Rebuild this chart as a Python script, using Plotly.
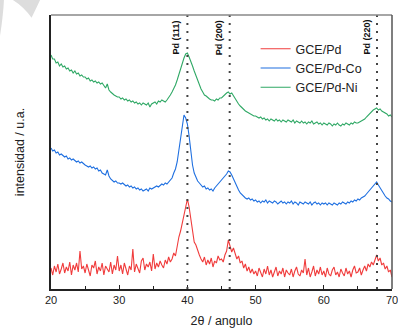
import numpy as np
import plotly.graph_objects as go

# 2theta grid (degrees), 0.25 step from 20 to 70
two_theta = [20 + 0.25 * i for i in range(201)]

# Intensities (arbitrary units, offset stacked as in the figure)
pd_ni = [
    234, 230, 230, 226, 227, 223, 225, 222, 223, 220, 221, 218, 219, 216, 218, 215, 216, 213, 214, 212,
    212, 210, 211, 208, 209, 207, 208, 206, 207, 205, 206, 203, 201, 205, 199, 197, 195, 194, 193, 192,
    192, 190, 191, 189, 190, 188, 189, 187, 188, 186, 187, 185, 186, 184, 186, 185, 184, 186, 182, 185,
    186, 187, 185, 188, 187, 189, 188, 187, 189, 191, 194, 197, 200, 204, 209, 215, 220, 226, 231, 235,
    236, 232, 228, 223, 218, 213, 208, 204, 200, 197, 194, 193, 191, 190, 189, 189, 188, 190, 189, 191,
    191, 193, 194, 196, 197, 195, 196, 193, 190, 188, 185, 183, 181, 180, 178, 177, 176, 175, 174, 173,
    173, 172, 171, 172, 170, 171, 169, 170, 168, 170, 169, 168, 170, 168, 169, 167, 169, 168, 167, 169,
    168, 167, 169, 166, 168, 167, 166, 168, 166, 167, 165, 167, 166, 168, 165, 166, 167, 165, 166, 164,
    166, 165, 164, 166, 165, 163, 165, 164, 166, 164, 163, 165, 164, 166, 165, 164, 166, 165, 167, 166,
    166, 167, 168, 169, 170, 172, 174, 176, 178, 179, 180, 181, 179, 180, 178, 177, 176, 175, 173, 174,
    172,
]

pd_co = [
    141, 138, 139, 136, 137, 134, 135, 133, 132, 133, 130, 131, 129, 130, 128, 127, 128, 126, 127, 125,
    124, 123, 122, 123, 121, 122, 120, 121, 118, 119, 116, 115, 114, 119, 113, 110, 108, 107, 108, 106,
    106, 105, 106, 104, 103, 104, 102, 103, 101, 102, 100, 101, 99, 100, 98, 99, 100, 98, 101, 100,
    101, 102, 103, 102, 104, 105, 104, 106, 105, 107, 108, 111, 116, 120, 127, 138, 152, 164, 174, 171,
    165, 153, 137, 124, 116, 111, 108, 106, 104, 102, 103, 100, 101, 99, 100, 98, 101, 103, 104, 106,
    108, 111, 113, 115, 118, 117, 114, 110, 106, 102, 99, 96, 94, 92, 91, 90, 91, 89, 90, 88,
    89, 87, 88, 86, 88, 87, 89, 86, 88, 87, 86, 88, 87, 85, 87, 88, 86, 87, 85, 87,
    86, 88, 85, 87, 86, 84, 87, 86, 85, 87, 86, 85, 87, 84, 86, 87, 85, 86, 84, 86,
    85, 86, 84, 86, 85, 84, 86, 85, 84, 86, 85, 87, 86, 85, 87, 86, 88, 87, 89, 88,
    90, 89, 91, 92, 93, 95, 97, 100, 102, 104, 106, 107, 104, 101, 98, 95, 93, 91, 90, 88,
    87,
]

pd_only = [
    21, 14, 23, 17, 25, 15, 20, 26, 16, 22, 18, 27, 14, 24, 19, 26, 17, 38, 20, 23,
    16, 25, 19, 13, 24, 21, 28, 15, 22, 18, 26, 14, 23, 20, 17, 27, 15, 24, 19, 33,
    18, 24, 15, 26, 20, 14, 23, 19, 40, 17, 25, 21, 16, 28, 31, 19, 25, 22, 27, 18,
    35, 20, 26, 22, 28, 24, 21, 29, 25, 32, 27, 30, 36, 33, 45, 52, 58, 66, 72, 80,
    90, 82, 70, 56, 47, 44, 38, 34, 30, 27, 32, 24, 29, 25, 31, 22, 28, 26, 33, 29,
    30, 27, 34, 38, 49, 42, 37, 41, 35, 30, 33, 26, 28, 21, 25, 18, 22, 16, 20, 15,
    18, 13, 21, 16, 12, 20, 15, 23, 14, 19, 12, 17, 22, 13, 18, 15, 21, 12, 19, 16,
    14, 20, 12, 18, 22, 15, 13, 19, 16, 30, 14, 21, 12, 17, 23, 13, 19, 15, 22, 14,
    18, 12, 21, 15, 13, 19, 22, 14, 17, 12, 20, 16, 13, 21, 15, 18, 12, 19, 23, 16,
    17, 21, 14, 19, 23, 18, 25, 22, 27, 24, 29, 34, 28, 31, 24, 26, 20, 23, 17, 19,
    12,
]

series_names = ["GCE/Pd", "GCE/Pd-Co", "GCE/Pd-Ni"]
series_colors = ["#F03C3C", "#1E6FE0", "#2FA865"]

# Reference peak positions (2theta) and labels
peak_pos = [40.0, 46.2, 67.8]
peak_labels = ["Pd (111)", "Pd (200)", "Pd (220)"]

x_ticks = [20, 30, 40, 50, 60, 70]

fig = go.Figure()
for name, ys, col in zip(series_names, [pd_only, pd_co, pd_ni], series_colors):
    fig.add_trace(go.Scatter(x=two_theta, y=ys, mode="lines", name=name,
                             line=dict(color=col, width=1.1)))

for p, lab in zip(peak_pos, peak_labels):
    fig.add_shape(type="line", xref="x", yref="paper", x0=p, x1=p, y0=0, y1=1,
                  line=dict(color="#444444", width=2, dash="2px,6px"), layer="above")
    fig.add_annotation(x=p, xref="x", xanchor="right", xshift=-4,
                       y=1, yref="paper", yanchor="top", yshift=-3,
                       text="<b>" + lab + "</b>", textangle=-90, showarrow=False,
                       font=dict(family="Liberation Sans, Arial", size=9, color="#111111"))

# top and right frame in grey
fig.add_shape(type="line", xref="paper", yref="paper", x0=0, x1=1, y0=1, y1=1,
              line=dict(color="#888888", width=1.5))
fig.add_shape(type="line", xref="paper", yref="paper", x0=1, x1=1, y0=0, y1=1,
              line=dict(color="#555555", width=1.5))

# faint grey watermark at top-left
fig.add_shape(type="path", xref="paper", yref="paper",
              path="M -0.150,1.055 L -0.138,1.055 Q -0.140,1.000 -0.150,0.920 Z",
              fillcolor="#DDDDDD", line=dict(width=0))
fig.add_shape(type="path", xref="paper", yref="paper",
              path="M -0.112,1.055 L -0.032,1.055 Q -0.045,1.020 -0.057,0.990 Q -0.080,1.030 -0.112,1.055 Z",
              fillcolor="#DDDDDD", line=dict(width=0))

fig.update_layout(
    width=398, height=332,
    margin=dict(l=51, r=6, t=15, b=43, autoexpand=False),
    paper_bgcolor="white", plot_bgcolor="white",
    font=dict(family="Liberation Sans, Arial", size=11, color="#222222"),
    showlegend=True,
    legend=dict(x=0.6, xanchor="left", y=0.93, yanchor="top",
                bgcolor="rgba(0,0,0,0)", borderwidth=0,
                font=dict(family="Liberation Sans, Arial", size=12.5, color="#222222"),
                itemwidth=30, tracegroupgap=0),
    xaxis=dict(range=[20, 70], tickvals=x_ticks, ticks="inside", ticklen=4,
               tickcolor="#222222", showline=True, linecolor="#222222", linewidth=1.5,
               showgrid=False, zeroline=False, ticklabeloverflow="allow", automargin=False,
               minor=dict(dtick=5, ticks="inside", ticklen=3, tickcolor="#222222"),
               title=dict(text="2θ / angulo", font=dict(size=12.5), standoff=11),
               tickfont=dict(size=11)),
    yaxis=dict(range=[0, 274], showticklabels=False, ticks="", showline=True,
               linecolor="#222222", linewidth=1.5, showgrid=False, zeroline=False,
               automargin=False,
               title=dict(text="intensidad / u.a.", font=dict(size=12.5), standoff=22)),
)

fig.write_html("out.html")
